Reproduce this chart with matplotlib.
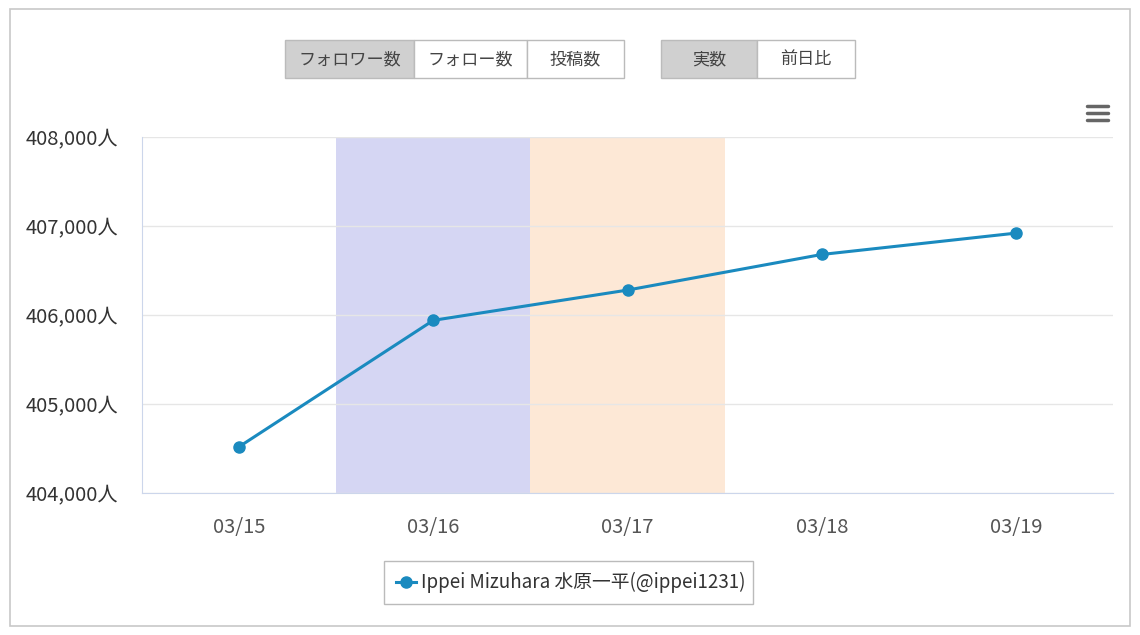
import numpy as np
import matplotlib
matplotlib.use("Agg")
import matplotlib.pyplot as plt
from matplotlib.patches import Rectangle
from matplotlib.lines import Line2D

plt.rcParams['font.family'] = ['Noto Sans CJK JP', 'DejaVu Sans']

# data
dates = ['03/15', '03/16', '03/17', '03/18', '03/19']
followers = [404520, 405940, 406280, 406680, 406920]
y_ticks = [404000, 405000, 406000, 407000, 408000]
series_name = 'Ippei Mizuhara 水原一平(@ippei1231)'
group1 = ['フォロワー数', 'フォロー数', '投稿数']
group2 = ['実数', '前日比']

W, H = 1140, 635
line_col = '#1a8abf'


def fx(x):
    return x / W


def fy(y):
    return 1 - y / H


fig = plt.figure(figsize=(W / 100, H / 100), dpi=100)
fig.patch.set_facecolor('white')

# outer frame
fig.patches.append(Rectangle((fx(10), fy(626)), fx(1120), 617 / H, transform=fig.transFigure,
                             fill=False, edgecolor='#c8c8c8', lw=1.2))

ax = fig.add_axes([fx(142), fy(493), fx(971), 356 / H])
x = np.arange(len(dates))

# highlighted days
ax.axvspan(0.5, 1.5, color='#d5d6f3', lw=0, zorder=0)
ax.axvspan(1.5, 2.5, color='#fde8d6', lw=0, zorder=0)

ax.plot(x, followers, color=line_col, lw=2.2, marker='o', ms=8, zorder=3)

ax.set_xlim(-0.5, len(dates) - 0.5)
ax.set_ylim(404000, 408000)
ax.set_yticks(y_ticks)
ax.set_yticklabels(['{:,}人'.format(v) for v in y_ticks], fontsize=14.5, color='#333333')
ax.set_xticks(x)
ax.set_xticklabels(dates, fontsize=14.5, color='#555555')
ax.tick_params(axis='both', length=0)
ax.tick_params(axis='y', pad=17)
ax.tick_params(axis='x', pad=17)
for yv in y_ticks:
    ax.axhline(yv, color='#e6e6e6', lw=1, zorder=1)
for s in ['top', 'right']:
    ax.spines[s].set_visible(False)
ax.spines['left'].set_color('#ccd6eb')
ax.spines['bottom'].set_color('#ccd6eb')
ax.set_facecolor('none')


def buttons(labels, x0, widths, y0=40, h=38):
    xs = x0
    for i, (lab, w) in enumerate(zip(labels, widths)):
        fc = '#d0d0d0' if i == 0 else 'white'
        fig.patches.append(Rectangle((fx(xs), fy(y0 + h)), fx(w), h / H, transform=fig.transFigure,
                                     facecolor=fc, edgecolor='#bbbbbb', lw=1))
        fig.text(fx(xs + w / 2), fy(y0 + h / 2), lab, ha='center', va='center',
                 fontsize=12.3, color='#444444')
        xs += w


buttons(group1, 285, [129, 113, 97])
buttons(group2, 661, [96, 98])

# menu icon
for yy in [106, 113, 120]:
    fig.add_artist(Line2D([fx(1087), fx(1108)], [fy(yy), fy(yy)], transform=fig.transFigure,
                          color='#666666', lw=2.5, solid_capstyle='round'))

# legend box
fig.patches.append(Rectangle((fx(384), fy(604)), fx(369), 43 / H, transform=fig.transFigure,
                             facecolor='white', edgecolor='#bbbbbb', lw=1))
fig.add_artist(Line2D([fx(396), fx(416)], [fy(582), fy(582)], transform=fig.transFigure,
                      color=line_col, lw=2.2))
fig.add_artist(Line2D([fx(406)], [fy(582)], transform=fig.transFigure, color=line_col,
                      marker='o', ms=8))
fig.text(fx(421), fy(582), series_name, ha='left', va='center', fontsize=13.5, color='#333333')

fig.savefig('out.png', dpi=100, facecolor='white')
